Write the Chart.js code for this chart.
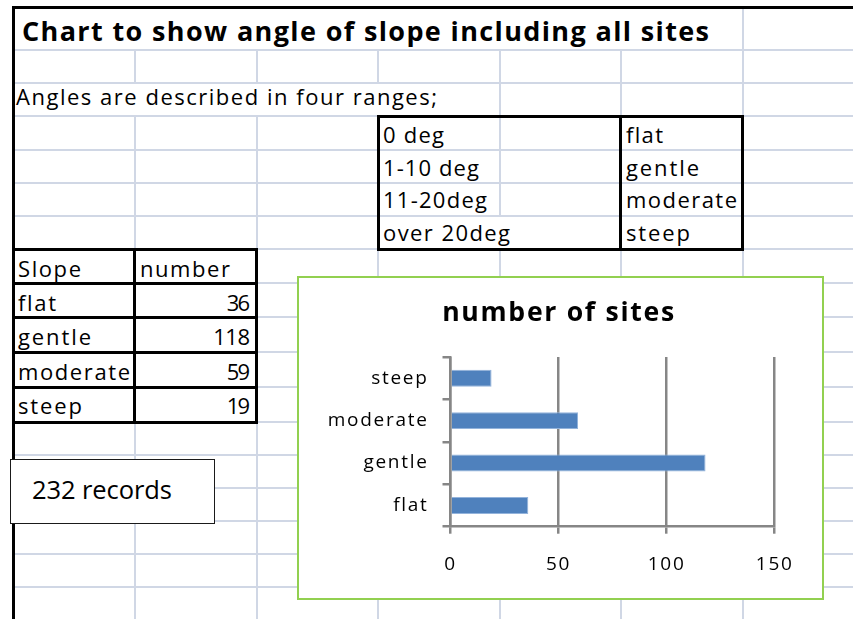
<!DOCTYPE html>
<html><head><meta charset="utf-8">
<script src="https://cdn.jsdelivr.net/npm/chart.js@4.4.1/dist/chart.umd.min.js"></script>
<style>
html,body{margin:0;padding:0;background:#fff;}
body{width:853px;height:619px;overflow:hidden;position:relative;font-family:"Open Sans",sans-serif;}
.l{position:absolute;}
.t{position:absolute;white-space:nowrap;color:#000;line-height:1.2;}
#rec{position:absolute;left:10px;top:459px;width:205px;height:65px;box-sizing:border-box;border:1.5px solid #1a1a1a;background:#fff;}
#chartBox{position:absolute;left:297px;top:276px;width:527px;height:324px;box-sizing:border-box;border:2.5px solid #92D050;background:#fff;}
#chartBox canvas{position:absolute;left:0;top:0;}
</style></head><body>
<script>
// ---- data ----
const sheetTitle = 'Chart to show angle of slope including all sites';
const introText = 'Angles are described in four ranges;';
const rangeLabels = ['0 deg', '1-10 deg', '11-20deg', 'over 20deg'];
const categories = ['flat', 'gentle', 'moderate', 'steep'];
const siteCounts = [36, 118, 59, 19];
const tableHeaders = ['Slope', 'number'];
const recordsText = '232 records';
const chartTitle = 'number of sites';
const xTickValues = [0, 50, 100, 150];
</script>
<div id="chartBox"><canvas id="c" width="522" height="319"></canvas></div>
<script>
const FONT = 'Open Sans';
const GRID = '#D0D7E5', BLACK = '#000';
function box(x, y, w, h, c) {
  const d = document.createElement('div'); d.className = 'l';
  Object.assign(d.style, {left: x + 'px', top: y + 'px', width: w + 'px', height: h + 'px', background: c});
  document.body.insertBefore(d, document.getElementById('chartBox'));
}
function hl(x1, x2, y, t, c) { box(x1, y - t / 2, x2 - x1, t, c); }
function vl(x, y1, y2, t, c) { box(x - t / 2, y1, t, y2 - y1, c); }
function txt(str, x, base, size, target, opt = {}) {
  const d = document.createElement('div'); d.className = 't';
  d.style.fontSize = size + 'px'; if (opt.bold) d.style.fontWeight = '700';
  const s = document.createElement('span'); s.textContent = str; d.appendChild(s);
  const m = document.createElement('span');
  m.style.cssText = 'display:inline-block;width:0;height:0;vertical-align:baseline';
  d.appendChild(m);
  document.body.insertBefore(d, document.getElementById('chartBox'));
  const nat = s.getBoundingClientRect().width;
  let ls = 0; if (target && str.length > 1) ls = (target - nat) / (str.length - 1);
  s.style.letterSpacing = ls + 'px';
  const w = nat + ls * (str.length - 1);
  d.style.left = (opt.right ? x - w : x) + 'px';
  d.style.top = (base - m.offsetTop) + 'px';
}

// ---- spreadsheet grid ----
const cols = [135, 257, 378, 500, 621, 743];
const rows = [7, 50, 83, 116, 150, 183, 216, 249, 283, 317, 352, 387, 422, 455, 488, 521, 554, 587, 620];
const skip = {0: [135, 257, 378, 500, 621], 2: [135, 257, 378], 6: [500]};
for (let i = 0; i < rows.length - 1; i++) {
  cols.forEach(x => { if (!(skip[i] || []).includes(x)) vl(x, rows[i], rows[i + 1], 2, GRID); });
}
rows.slice(1).forEach(y => hl(13, 853, y, 2, GRID));
// black borders
const T = 3;
hl(13, 853, 7, T, BLACK); vl(13, 6, 620, T, BLACK);
hl(376.5, 743.5, 116, T, BLACK); hl(376.5, 743.5, 249, T, BLACK);
vl(378, 116, 249, T, BLACK); vl(620, 116, 249, T, BLACK); vl(742, 116, 249, T, BLACK);
[249, 283, 317, 352, 387, 422].forEach(y => hl(11.5, 258, y, T, BLACK));
vl(134, 249, 422, T, BLACK); vl(256, 249, 422, T, BLACK);

// ---- cell texts ----
const CS = 22;
txt(sheetTitle, 22, 40.5, 27, 687, {bold: true});
txt(introText, 16, 104.5, CS, 421);
const rBase = [143, 175.5, 208, 240.5];
const rW = [61, 96, 104, 127];
rangeLabels.forEach((s, i) => txt(s, 383, rBase[i], CS, rW[i]));
const nW = {flat: 37, gentle: 73, moderate: 111, steep: 64};
categories.forEach((s, i) => txt(s, 626, rBase[i], CS, nW[s]));
txt(tableHeaders[0], 18, 277, CS, 63);
txt(tableHeaders[1], 140, 277, CS, 90);
const lBase = [310.5, 345, 380, 414];
const lW = {flat: 38, gentle: 73, moderate: 112, steep: 64};
const numW = {2: 23.3, 3: 36.7};
categories.forEach((s, i) => {
  txt(s, 18, lBase[i], CS, lW[s]);
  const v = String(siteCounts[i]);
  txt(v, 250, lBase[i], CS, numW[v.length], {right: true});
});
// text box
const rec = document.createElement('div'); rec.id = 'rec';
document.body.insertBefore(rec, document.getElementById('chartBox'));
txt(recordsText, 32, 498.5, 25.5, 140);

// ---- chart ----
const mc = document.createElement('canvas').getContext('2d');
function natW(t, font) { mc.font = font; return mc.measureText(t).width; }
const tickSize = 19;
const longest = categories.reduce((a, b) => a.length > b.length ? a : b);
const tickLs = (99 - natW(longest, `${tickSize}px "${FONT}"`)) / (longest.length - 1);
const titleSize = (232 - tickLs * (chartTitle.length - 1)) / natW(chartTitle, `bold 100px "${FONT}"`) * 100;
const tp = 35.5 - 0.6 * titleSize;
const bp = 79 - tp - 1.2 * titleSize;
const GREY = '#868686';
const lsPlugin = {
  id: 'letterSpacing',
  beforeLayout(c) { c.ctx.letterSpacing = tickLs + 'px'; },
  afterLayout(c) {
    // centre the title over the whole chart box, like the spreadsheet chart
    c.titleBlock.left = 0; c.titleBlock.right = 520; c.titleBlock.width = 520;
  },
  beforeDraw(c) { c.ctx.letterSpacing = tickLs + 'px'; }
};
new Chart(document.getElementById('c'), {
  type: 'bar',
  data: {
    labels: categories,
    datasets: [{
      data: siteCounts, backgroundColor: '#4F81BD', borderColor: '#93B3DB', borderWidth: 1,
      barPercentage: 0.4, categoryPercentage: 1
    }]
  },
  options: {
    indexAxis: 'y', responsive: false, animation: false, devicePixelRatio: 1,
    layout: {padding: {left: 0, right: 46.3, top: 0, bottom: 0}},
    plugins: {
      legend: {display: false}, tooltip: {enabled: false},
      title: {display: true, text: chartTitle, color: '#000',
        font: {family: FONT, size: titleSize, weight: 'bold', lineHeight: 1.2},
        padding: {top: tp, bottom: bp}}
    },
    scales: {
      x: {
        type: 'linear', min: xTickValues[0], max: xTickValues[xTickValues.length - 1],
        ticks: {stepSize: xTickValues[1] - xTickValues[0], color: '#000', font: {family: FONT, size: tickSize}, padding: 19},
        grid: {color: GREY, lineWidth: 2.5, tickLength: 7},
        border: {display: true, color: GREY, width: 2.5},
        afterFit: s => { s.height = 70.3; }
      },
      y: {
        reverse: true,
        ticks: {color: '#000', font: {family: FONT, size: tickSize}, padding: 14},
        grid: {drawOnChartArea: false, color: GREY, lineWidth: 2.5, tickLength: 8, offset: true},
        border: {display: true, color: GREY, width: 2.5},
        afterFit: s => { s.width = 151.5; }
      }
    }
  },
  plugins: [lsPlugin]
});
</script>
</body></html>
